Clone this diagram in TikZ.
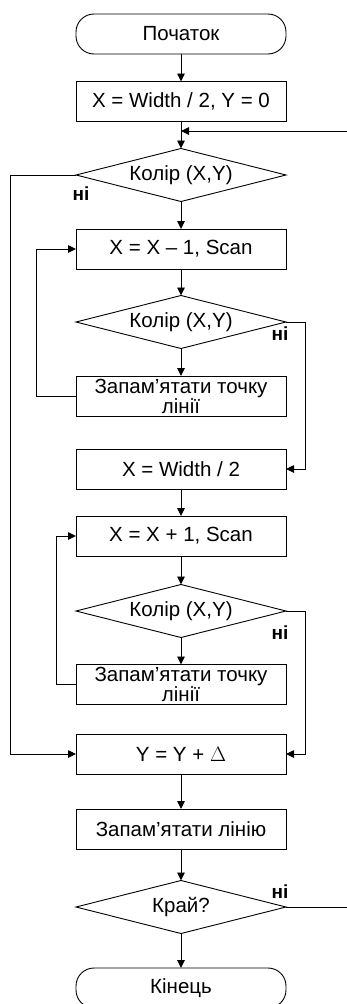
\documentclass[tikz,border=0pt]{standalone}
\usepackage{fontspec}
\setmainfont{Liberation Sans}
\usetikzlibrary{shapes.geometric,arrows.meta}

\begin{document}
\begin{tikzpicture}[x=1pt,y=-1pt,line width=0.9pt,
	every node/.style={font=\fontsize{20.5}{17}\selectfont},
	blok/.style={draw,rectangle,minimum width=210pt,minimum height=40pt,inner sep=0pt,outer sep=0pt,align=center},
	romb/.style={draw,diamond,aspect=4,minimum width=210pt,minimum height=53pt,inner sep=0pt,outer sep=0pt},
	term/.style={draw,rectangle,rounded corners=18pt,minimum width=210pt,minimum height=40pt,outer sep=0pt},
	strilka/.style={-{Triangle[length=8pt,width=7.5pt]}},
	ni/.style={font=\bfseries\fontsize{19}{19}\selectfont,inner sep=0pt}]% Блок-схема: 1px = 1pt
	\useasboundingbox (0,0) rectangle (347,1004);
	\def\cx{181}
	\node[term] (poch) at (\cx,34) {Початок};
	\node[blok] (b1) at (\cx,101.5) {X = Width / 2, Y = 0};
	\coordinate (j1) at (\cx,131);
	\node[romb] (r1) at (\cx,175) {Колір (X,Y)};
	\node[blok] (b2) at (\cx,249) {X = X – 1, Scan};
	\node[romb] (r2) at (\cx,322) {Колір (X,Y)};
	\node[blok] (b3) at (\cx,396) {Запам’ятати точку\\лінії};
	\node[blok] (b4) at (\cx,469) {X = Width / 2};
	\node[blok] (b5) at (\cx,536) {X = X + 1, Scan};
	\node[romb] (r3) at (\cx,611) {Колір (X,Y)};
	\node[blok] (b6) at (\cx,684.5) {Запам’ятати точку\\лінії};
	\node[blok] (b7) at (\cx,754) {Y = Y + $\Delta$};
	\node[blok] (b8) at (\cx,829) {Запам’ятати лінію};
	\node[romb] (r4) at (\cx,907) {Край?};
	\node[term] (kin) at (\cx,988) {Кінець};
	\node[ni] (n1) at (81,194) {ні};
	\node[ni] (n2) at (280,334) {ні};
	\node[ni] (n3) at (280,633) {ні};
	\node[ni] (n4) at (280,892) {ні};
	% вниз
	\draw[strilka] (poch) -- (b1);
	\draw[strilka] (b1) -- (r1);
	\draw[strilka] (r1) -- (b2);
	\draw[strilka] (b2) -- (r2);
	\draw[strilka] (r2) -- (b3);
	\draw[strilka] (b4) -- (b5);
	\draw[strilka] (b5) -- (r3);
	\draw[strilka] (r3) -- (b6);
	\draw[strilka] (b7) -- (b8);
	\draw[strilka] (b8) -- (r4);
	\draw[strilka] (r4) -- (kin);
	% петлі
	\draw[strilka] (b3.west) -- ++(-40,0) |- (b2.west);
	\draw[strilka] (b6.west) -- ++(-20,0) |- (b5.west);
	\draw[strilka] (r1.west) -- ++(-66,0) |- (b7.west);
	\draw[strilka] (r2.east) -- ++(19,0) |- (b4.east);
	\draw[strilka] (r3.east) -- ++(19,0) |- (b7.east);
	\draw[strilka] (r4.east) -- ++(62.5,0) |- (j1);
\end{tikzpicture}
\end{document}
